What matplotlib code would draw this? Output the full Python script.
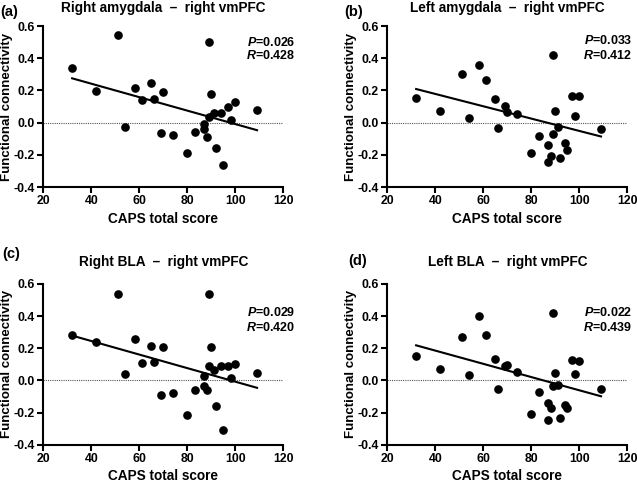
import numpy as np
import matplotlib
matplotlib.use('Agg')
import matplotlib.pyplot as plt

plt.rcParams['font.family'] = ['Liberation Sans', 'DejaVu Sans']
plt.rcParams['font.weight'] = 'bold'
plt.rcParams['mathtext.fontset'] = 'custom'
plt.rcParams['mathtext.it'] = 'Liberation Sans:bold:italic'
plt.rcParams['mathtext.rm'] = 'Liberation Sans:bold'

caps = [32, 42, 51, 54, 58, 61, 65, 66, 69, 70, 74, 80, 83, 87, 87, 88,
        89, 89, 90, 91, 92, 94, 95, 97, 98, 100, 109]
caps_b = [32, 42, 51, 54, 58, 61, 65, 66, 69, 70, 74, 80, 83, 87, 87, 88,
          89, 89, 90, 91, 92, 94, 95, 97, 98, 100, 109]

fc_a = [0.337, 0.195, 0.544, -0.029, 0.212, 0.141, 0.249, 0.146, -0.064, 0.193,
        -0.074, -0.190, -0.060, -0.006, -0.041, -0.087, 0.502, 0.038, 0.177,
        0.061, -0.155, 0.061, -0.263, 0.100, 0.017, 0.129, 0.079]
fc_b = [0.152, 0.073, 0.301, 0.027, 0.359, 0.262, 0.144, -0.031, 0.106, 0.065,
        0.056, -0.186, -0.085, -0.141, -0.242, -0.207, 0.417, -0.068, 0.075,
        -0.029, -0.222, -0.126, -0.170, 0.164, 0.042, 0.164, -0.041]
fc_c = [0.283, 0.240, 0.538, 0.043, 0.257, 0.109, 0.215, 0.116, -0.092, 0.209,
        -0.080, -0.215, -0.061, 0.026, -0.032, -0.061, 0.538, 0.089, 0.205,
        0.068, -0.157, 0.089, -0.309, 0.089, 0.016, 0.105, 0.047]
fc_d = [0.153, 0.072, 0.272, 0.035, 0.402, 0.280, 0.132, -0.053, 0.093, 0.099,
        0.053, -0.211, -0.074, -0.138, -0.244, -0.173, 0.421, -0.034, 0.045,
        -0.030, -0.232, -0.155, -0.173, 0.128, 0.041, 0.118, -0.055]

titles = ['Right amygdala  –  right vmPFC', 'Left amygdala  –  right vmPFC',
          'Right BLA  –  right vmPFC', 'Left BLA  –  right vmPFC']
tags = ['(a)', '(b)', '(c)', '(d)']
p_vals = ['0.026', '0.033', '0.029', '0.022']
r_vals = ['0.428', '0.412', '0.420', '0.439']

fig = plt.figure(figsize=(6.37, 4.82), dpi=100)
boxes = [[0.068, 0.612, 0.377, 0.334], [0.608, 0.612, 0.377, 0.334],
         [0.068, 0.077, 0.377, 0.334], [0.608, 0.077, 0.377, 0.334]]
xs = [caps, caps_b, caps, caps_b]
ys = [fc_a, fc_b, fc_c, fc_d]
text_pos = [(1.05, 0.90, 0.82), (1.02, 0.91, 0.82), (1.05, 0.82, 0.73), (1.02, 0.82, 0.73)]
tag_pos = [(0.0, 0.99), (0.54, 0.99), (0.003, 0.488), (0.546, 0.473)]
title_pad = [10, 10, 13, 13]

for i in range(4):
    ax = fig.add_axes(boxes[i])
    x = np.array(xs[i])
    y = np.array(ys[i])
    ax.axhline(0, color='#555555', lw=0.8, ls=(0, (1, 1)), zorder=1)
    k, b = np.polyfit(x, y, 1)
    xl = np.array([x.min(), x.max()])
    ax.plot(xl, k*xl + b, color='black', lw=1.5, zorder=2)
    ax.plot(x, y, 'o', color='black', ms=5.2, zorder=3)
    ax.set_xlim(20, 120)
    ax.set_ylim(-0.4, 0.6)
    ax.set_xticks([20, 40, 60, 80, 100, 120])
    ax.set_yticks([-0.4, -0.2, 0.0, 0.2, 0.4, 0.6])
    ax.set_yticklabels(['-0.4', '-0.2', '0.0', '0.2', '0.4', '0.6'])
    for s in ['top', 'right']:
        ax.spines[s].set_visible(False)
    for s in ['left', 'bottom']:
        ax.spines[s].set_linewidth(1.5)
    ax.tick_params(width=1.5, length=4, pad=2, labelsize=8.8)
    ax.set_xlabel('CAPS total score', fontsize=9.8, fontweight='bold', labelpad=3)
    ax.set_ylabel('Functional connectivity', fontsize=9.5, fontweight='bold')
    ax.yaxis.set_label_coords(-0.125, 0.5)
    ax.set_title(titles[i], fontsize=9.8, fontweight='bold', pad=title_pad[i])
    tx, py, ry = text_pos[i]
    ax.text(tx, py, r'$P$=' + p_vals[i], transform=ax.transAxes, ha='right',
            va='center', fontsize=9, fontweight='bold')
    ax.text(tx, ry, r'$R$=' + r_vals[i], transform=ax.transAxes, ha='right',
            va='center', fontsize=9, fontweight='bold')
    fig.text(tag_pos[i][0], tag_pos[i][1], tags[i], fontsize=10.5, fontweight='bold',
             ha='left', va='top')

fig.savefig('out.png', dpi=100)
